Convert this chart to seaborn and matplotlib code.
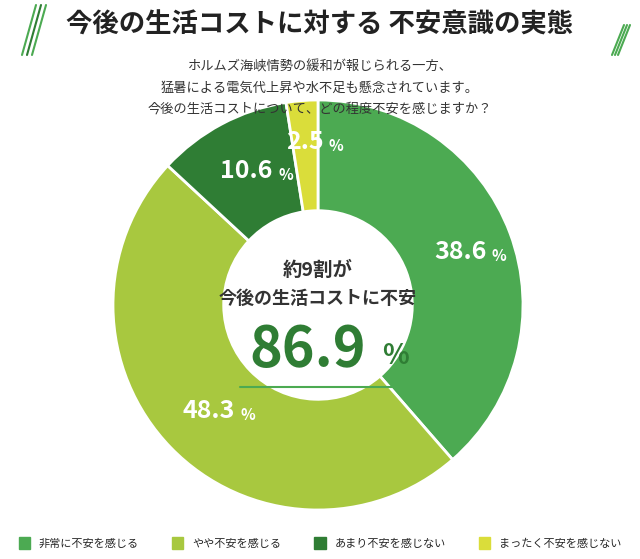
import matplotlib
matplotlib.use("Agg")
import matplotlib.pyplot as plt
import seaborn as sns
import numpy as np

sns.set_theme(style="white")
plt.rcParams['font.family'] = ['Noto Sans CJK JP', 'DejaVu Sans']

categories = ["非常に不安を感じる", "やや不安を感じる", "あまり不安を感じない", "まったく不安を感じない"]
values = [38.6, 48.3, 10.6, 2.5]
colors = ["#4caa52", "#a8c83f", "#2f7d34", "#dadd3a"]
pct_labels = ["38.6", "48.3", "10.6", "2.5"]

W, H = 640, 559
fig = plt.figure(figsize=(6.4, 5.59), dpi=100)
fig.patch.set_facecolor("white")

r = 205
cx, cy = 318, 305
ax = fig.add_axes([(cx - r) / W, (H - cy - r) / H, 2 * r / W, 2 * r / H])
wedges, _ = ax.pie(values, colors=colors, startangle=90, counterclock=False,
                   radius=1.0, wedgeprops=dict(width=0.54, edgecolor="white", linewidth=2))
ax.set_xlim(-1, 1); ax.set_ylim(-1, 1); ax.set_aspect("equal"); ax.axis("off")

start = 90.0
lab_r = [0.74, 0.74, 0.74, 0.80]
for v, lab, rr in zip(values, pct_labels, lab_r):
    mid = start - v * 3.6 / 2
    start -= v * 3.6
    x, y = rr * np.cos(np.radians(mid)), rr * np.sin(np.radians(mid))
    ax.text(x, y, lab, ha="center", va="center", fontsize=18, fontweight="bold", color="white")
    ax.text(x + (0.19 if len(lab) == 4 else 0.15), y - 0.02, "%", ha="center", va="center",
            fontsize=11, fontweight="bold", color="white")

ax.text(0, 0.17, "約9割が", ha="center", va="center", fontsize=14, fontweight="bold", color="#333333")
ax.text(0, 0.03, "今後の生活コストに不安", ha="center", va="center", fontsize=13, fontweight="bold", color="#333333")
ax.text(-0.05, -0.22, "86.9", ha="center", va="center", fontsize=40, fontweight="bold", color="#2f7d34")
ax.text(0.38, -0.25, "%", ha="center", va="center", fontsize=20, fontweight="bold", color="#2f7d34")
ax.plot([-0.38, 0.38], [-0.40, -0.40], color="#4caa52", lw=1.5)

fig.text(0.5, 1 - 25 / H, "今後の生活コストに対する 不安意識の実態", ha="center", va="center",
         fontsize=19, fontweight="bold", color="#222222")
for i, dx in enumerate([0, 5, 10]):
    fig.add_artist(plt.Line2D([(22 + dx) / W, (36 + dx) / W], [1 - 55 / H, 1 - 5 / H],
                              color="#4caa52" if i != 1 else "#2f7d34", lw=1.5))
    fig.add_artist(plt.Line2D([(612 + dx * 0.6) / W, (624 + dx * 0.6) / W], [1 - 55 / H, 1 - 25 / H],
                              color="#4caa52", lw=1.5))
sub = ["ホルムズ海峡情勢の緩和が報じられる一方、",
       "猛暑による電気代上昇や水不足も懸念されています。",
       "今後の生活コストについて、どの程度不安を感じますか？"]
for i, s in enumerate(sub):
    fig.text(0.5, 1 - (67 + i * 21) / H, s, ha="center", va="center", fontsize=9.5, color="#333333")

handles = [plt.Rectangle((0, 0), 1, 1, color=c) for c in colors]
fig.legend(handles, categories, loc="center", bbox_to_anchor=(0.5, 1 - 543 / H), ncol=4,
           frameon=False, fontsize=8, handlelength=1.0, handleheight=1.2, columnspacing=3.0,
           handletextpad=0.8)

fig.savefig("out.png", dpi=100, facecolor="white")
